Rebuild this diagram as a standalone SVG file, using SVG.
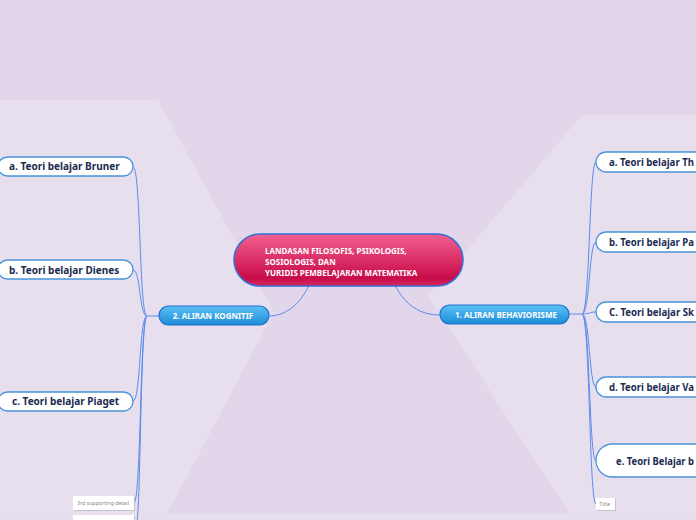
<svg xmlns="http://www.w3.org/2000/svg" width="696" height="520" viewBox="0 0 696 520">
<defs>
<linearGradient id="gCenter" x1="0" y1="0" x2="0" y2="1">
<stop offset="0" stop-color="#f2608f"/>
<stop offset="0.85" stop-color="#c80c4a"/>
<stop offset="1" stop-color="#d8285e"/>
</linearGradient>
<linearGradient id="gMain" x1="0" y1="0" x2="0" y2="1">
<stop offset="0" stop-color="#5cc0f4"/>
<stop offset="1" stop-color="#1c8cd8"/>
</linearGradient>
<style>
.leaf{fill:#ffffff;stroke:#4a94dc;stroke-width:1.3}
.lt{font-family:"Noto Sans","Open Sans",sans-serif;font-weight:bold;font-size:10px;fill:#1b2b52}
.main{fill:url(#gMain);stroke:#2270d0;stroke-width:1.2}
.mt{font-family:"Noto Sans","Open Sans",sans-serif;font-weight:bold;font-size:8px;fill:#ffffff}
.ct{font-family:"Noto Sans","Open Sans",sans-serif;font-weight:bold;font-size:8px;fill:#ffffff}
.sm{fill:#ffffff}
.smsh{fill:#c8c0cc}
.st{font-family:"Noto Sans","Open Sans",sans-serif;font-size:5.5px;fill:#8a8a8a}
.conn path{fill:none;stroke:#5b8cec;stroke-width:1}
</style>
</defs>
<rect x="0" y="0" width="696" height="520" fill="#e7dfee"/>
<polygon points="0,0 696,0 696,115 582,115 428,296 574,520 164,520 274,312 158,100 0,100" fill="#e2d6ea"/>
<rect x="0" y="513" width="696" height="7" fill="#e6deed"/>

<g id="connectors" class="conn">
<path d="M309,285 C300,305 285,316 269,316"/>
<path d="M395,285 C405,305 420,315 440,315"/>
<path d="M159,316 L147,316"/>
<path d="M147,316 C139,316 141,167 133,167"/>
<path d="M147,316 C139,316 141,270 133,270"/>
<path d="M147,316 C139,316 141,401 133,401"/>
<path d="M147,316 C140,316 141,503 134,503"/>
<path d="M147,316 C140,316 141,522 136,526"/>
<path d="M569,314 L582,314"/>
<path d="M582,314 C590,314 589,162 596,162"/>
<path d="M582,314 C590,314 589,242 596,242"/>
<path d="M582,314 C590,314 589,312 596,312"/>
<path d="M582,314 C590,314 589,387 596,387"/>
<path d="M582,314 C590,314 589,461 596,461"/>
<path d="M582,314 C590,314 589,504 596,504"/>
</g>

<g id="center">
<rect x="234" y="234" width="229" height="52" rx="26" fill="url(#gCenter)" stroke="#2f6fd8" stroke-width="1.5"/>
<text class="ct" x="265" y="254">LANDASAN FILOSOFIS, PSIKOLOGIS,</text>
<text class="ct" x="265" y="265">SOSIOLOGIS, DAN</text>
<text class="ct" x="265" y="276">YURIDIS PEMBELAJARAN MATEMATIKA</text>
</g>

<g id="kognitif">
<rect class="main" x="159" y="306" width="110" height="19" rx="9.5"/>
<text class="mt" x="213" y="318.5" text-anchor="middle">2. ALIRAN KOGNITIF</text>
</g>
<g id="behaviorisme">
<rect class="main" x="440" y="305" width="129" height="19" rx="9.5"/>
<text class="mt" x="506" y="317.5" text-anchor="middle">1. ALIRAN BEHAVIORISME</text>
</g>

<g id="bruner">
<rect class="leaf" x="-2" y="157" width="135" height="19" rx="9.5"/>
<text class="lt" x="9" y="170">a. Teori belajar Bruner</text>
</g>
<g id="dienes">
<rect class="leaf" x="-2" y="260" width="135" height="19" rx="9.5"/>
<text class="lt" x="9" y="273.5">b. Teori belajar Dienes</text>
</g>
<g id="piaget">
<rect class="leaf" x="-2" y="392" width="135" height="19" rx="9.5"/>
<text class="lt" x="12" y="405">c. Teori belajar Piaget</text>
</g>
<g id="detail3">
<rect class="smsh" x="74" y="497" width="61" height="14"/>
<rect class="sm" x="73" y="496" width="61" height="14"/>
<text class="st" x="77" y="505" textLength="52" lengthAdjust="spacingAndGlyphs">3rd supporting detail</text>
</g>
<g id="detail2">
<rect class="smsh" x="74" y="516" width="61" height="14"/>
<rect class="sm" x="73" y="515" width="61" height="14"/>
</g>

<g id="thorndike">
<rect class="leaf" x="596" y="152" width="120" height="20" rx="10"/>
<text class="lt" x="609" y="165.5" textLength="85" lengthAdjust="spacingAndGlyphs">a. Teori belajar Th</text>
</g>
<g id="pavlov">
<rect class="leaf" x="596" y="232" width="120" height="20" rx="10"/>
<text class="lt" x="609" y="245.5" textLength="85" lengthAdjust="spacingAndGlyphs">b. Teori belajar Pa</text>
</g>
<g id="skinner">
<rect class="leaf" x="596" y="302" width="120" height="20" rx="10"/>
<text class="lt" x="609" y="315.5" textLength="85" lengthAdjust="spacingAndGlyphs">C. Teori belajar Sk</text>
</g>
<g id="vanhiele">
<rect class="leaf" x="596" y="377" width="120" height="20" rx="10"/>
<text class="lt" x="609" y="390.5" textLength="85" lengthAdjust="spacingAndGlyphs">d. Teori belajar Va</text>
</g>
<g id="e-node">
<rect class="leaf" x="596" y="444" width="130" height="33" rx="16.5"/>
<text class="lt" x="616" y="465" textLength="78" lengthAdjust="spacingAndGlyphs">e. Teori Belajar b</text>
</g>
<g id="title-node">
<rect class="smsh" x="597" y="499" width="19" height="12"/>
<rect class="sm" x="596" y="498" width="19" height="12"/>
<text class="st" x="599" y="506">Title</text>
</g>
</svg>
